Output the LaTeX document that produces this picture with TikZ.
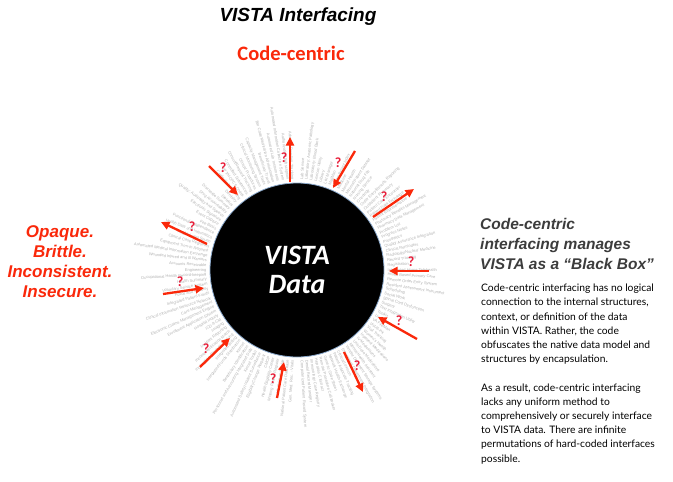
\documentclass[tikz,border=0pt]{standalone}
\usepackage{fontspec}
\setmainfont{Liberation Sans}
\newfontfamily\roundfont{Carlito}
\newfontfamily\bodyfont{Lato}
\usetikzlibrary{arrows.meta}
\definecolor{arrowred}{RGB}{250,40,10}
\definecolor{qred}{RGB}{232,30,58}
\definecolor{headgray}{RGB}{60,60,60}
\definecolor{ringblue}{RGB}{140,170,205}
\tikzset{
  probe/.style={arrowred,line width=2.3pt,-{Triangle[length=8.5pt,width=8pt]}},
  qmark/.style={qred,font=\roundfont\bfseries\fontsize{14}{14}\selectfont,inner sep=0pt},
  pkg/.style={gray!60,font=\fontsize{4}{4.2}\selectfont,inner sep=0pt}
}

\begin{document}
\begin{tikzpicture}[x=1pt,y=-1pt]
\useasboundingbox (0,0) rectangle (673,482);
\node [font=\bfseries\itshape\fontsize{19}{19}\selectfont] (title) at (298,17){VISTA Interfacing};
\node [arrowred,font=\roundfont\bfseries\fontsize{20.5}{20.5}\selectfont] (sub) at (291,53){Code-centric};
\node [arrowred,align=center,font=\bfseries\itshape\fontsize{17}{20}\selectfont] (faults) at (60,262){Opaque.\\Brittle.\\Inconsistent.\\Insecure.};

\node [circle,fill=black,draw=ringblue,line width=0.8pt,minimum size=174pt,inner sep=0pt,outer sep=3.5pt,
  text=white,align=center,font=\roundfont\bfseries\itshape\fontsize{28}{29}\selectfont] (vista) at (297,270){VISTA\\Data};

% package names round the right half
\foreach \name [count=\i] in {Lab Service,Laboratory: Anatomic Pathology,Laboratory: Blood Bank,Lexicon Utility,Library,
  List Manager,MailMan,Master Patient Index,Medicine,Mental Health,Minimal Patient Dataset,National Drug File,
  Nursing Service,Oncology,Order Entry/Results Reporting,Outpatient Pharmacy,Patient Care Encounter,
  Patient Data Exchange,Patient Representative,Pharmacy Benefits Management,Pharmacy Data Management,Problem List,
  Progress Notes,Prosthetics,Quality Assurance Integration,Clinical Reminders,Radiology/Nuclear Medicine,
  Record Tracking,Registration,Integrated Home Telehealth,Home Based Primary Care,Remote Order Entry System,
  Resident Assessment Instrument,Scheduling,Social Work,Spinal Cord Dysfunction,Surgery,Text Integration Utility,
  Toolkit,Unwinder,VA FileMan,VistALink,Visit Tracking,Women's Health,Inpatient Medications,IV Medications,
  Unit Dose Medications,Mental Health Assistant,Vendor Document Storage Systems,Emergency Department Integration,
  Clinical Lexicon,Patient Advocate Tracking,Network Health Exchange,Generic Code Sheet,Remote Procedure Call Broker,
  Hepatitis C Extract,Immunology Case Registry,Dental Record Manager,Computerized Patient Record System}
{
  \pgfmathtruncatemacro\ang{mod(450-3*\i,360)}
  \node [pkg,rotate=\ang,anchor=west] at (vista.\ang){\name};
}
% package names round the left half
\foreach \name [count=\i] in {Adverse Reaction Tracking,Authorization/Subscription,Automated Information Collection System,
  Automated Lab Instruments,Bar Code Medication Administration,Beneficiary Travel,Capacity Management Tools,
  Clinical Monitoring System,Clinical Procedures,Consult/Request Tracking,Controlled Substances,CPT/HCPCS Codes,
  Credentials Tracking,Dentistry,Dietetics,Discharge Summary,Drug Accountability,Quality: Audiology and Speech,
  Electronic Signature,Event Capture,Fee Basis,Functional Independence,Health Data and Informatics,Health Level Seven,
  Clinical Case Registries,Equipment Turn-In Request,Automated Medical Information Exchange,
  Wounded Injured and Ill Warriors,Accounts Receivable,Engineering,Occupational Health Record-keeping,Health Summary,
  Voluntary Service System,Police and Security,Integrated Patient Funds,Clinical Information Resource Network,
  Care Management,Electronic Claims Management Engine,Enrollment Application System,Hospital Inquiry,ICD-9-CM,
  Imaging,Incident Reporting,Income Verification Match,Incomplete Records Tracking,Integrated Billing,
  Integrated Funds Distribution,Kernel,Beneficiary Identification,Personnel and Accounting Integrated Data,
  Kernel Toolkit,Automated Safety Incident Surveillance,Eligibility Change Request,CMOP,Health Eligibility Center,
  Missing Patient Register,VA Point of Service,National Patient Care Database,Gen. Med. Rec. - Vitals}
{
  \pgfmathtruncatemacro\ang{90+3*\i}
  \node [pkg,rotate=\ang-180,anchor=east] at (vista.\ang){\name};
}

% arrows into and out of the black box
\coordinate (p1a) at (209,166); \coordinate (p1b) at (238,195);
\coordinate (p2a) at (290,182); \coordinate (p2b) at (290,137);
\coordinate (p3a) at (355,151); \coordinate (p3b) at (333,188);
\coordinate (p4a) at (373,217); \coordinate (p4b) at (414,189);
\coordinate (p5a) at (207,244); \coordinate (p5b) at (161,222);
\coordinate (p6a) at (429,271); \coordinate (p6b) at (389,271);
\coordinate (p7a) at (163,294); \coordinate (p7b) at (204,288);
\coordinate (p8a) at (417,339); \coordinate (p8b) at (378,317);
\coordinate (p9a) at (200,367); \coordinate (p9b) at (230,338);
\coordinate (p10a) at (277,398); \coordinate (p10b) at (284,362);
\coordinate (p11a) at (344,352); \coordinate (p11b) at (363,392);
\draw [probe] (p1a) -- (p1b);
\draw [probe] (p2a) -- (p2b);
\draw [probe] (p3a) -- (p3b);
\draw [probe] (p4a) -- (p4b);
\draw [probe] (p5a) -- (p5b);
\draw [probe] (p6a) -- (p6b);
\draw [probe] (p7a) -- (p7b);
\draw [probe] (p8a) -- (p8b);
\draw [probe] (p9a) -- (p9b);
\draw [probe] (p10a) -- (p10b);
\draw [probe] (p11a) -- (p11b);
\node [qmark] (q1) at (223,168){?};
\node [qmark] (q2) at (284,158){?};
\node [qmark] (q3) at (338,163){?};
\node [qmark] (q4) at (384,197){?};
\node [qmark] (q5) at (192,227){?};
\node [qmark] (q6) at (411,262){?};
\node [qmark] (q7) at (180,282){?};
\node [qmark] (q8) at (399,321){?};
\node [qmark] (q9) at (206,349){?};
\node [qmark] (q10) at (273,379){?};
\node [qmark] (q11) at (357,366){?};

\node [headgray,anchor=north west,align=left,inner sep=0pt,font=\bfseries\itshape\fontsize{15.5}{20}\selectfont] (head) at (480,218)
  {Code-centric\\interfacing manages\\VISTA as a “Black Box”};
\node [anchor=north west,align=left,inner sep=0pt,font=\bodyfont\fontsize{10.3}{14.2}\selectfont] (body) at (481,284)
  {Code-centric interfacing has no logical\\connection to the internal structures,\\context,  or definition of the data\\within VISTA.  Rather, the code\\obfuscates the native data model and\\structures by encapsulation.\\[14.2pt]
   As a result, code-centric interfacing\\lacks any uniform method to\\comprehensively or securely interface\\to VISTA data.  There are infinite\\permutations of hard-coded interfaces\\possible.};
\end{tikzpicture}
\end{document}
